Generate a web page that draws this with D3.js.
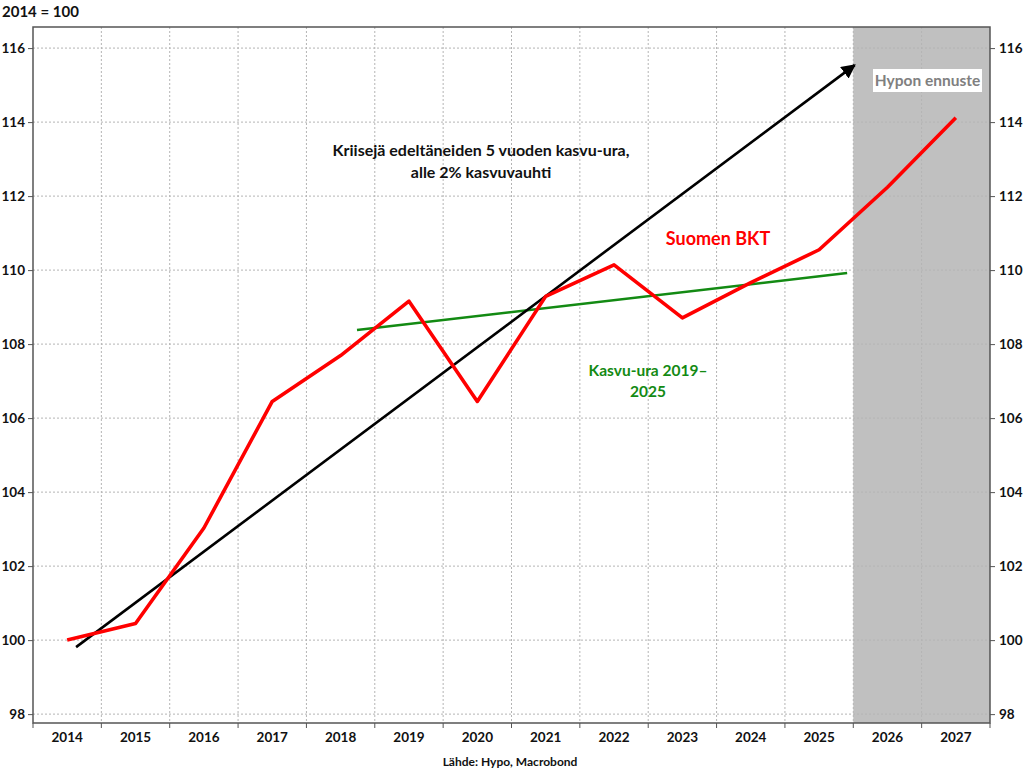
<!DOCTYPE html>
<html lang="fi">
  <head>
    <meta charset="utf-8" />
    <title>Suomen BKT, 2014 = 100</title>
    <style>
      body {
        margin: 0;
        background: #fff;
        font-family: Lato, "Open Sans", sans-serif;
        font-weight: bold;
      }
      .grid line {
        stroke: #b4b4b4;
        stroke-width: 1;
        stroke-dasharray: 2, 2;
      }
      .axis text {
        font-family: Lato, sans-serif;
        font-weight: bold;
        font-size: 13.5px;
        fill: #111;
      }
      .axis path,
      .axis line {
        stroke: #555;
      }
    </style>
    <script src="https://d3js.org/d3.v7.min.js"></script>
  </head>
  <body>
    <svg width="1024" height="772"></svg>
    <script>
      // data
      const years = [2014, 2015, 2016, 2017, 2018, 2019, 2020, 2021, 2022, 2023, 2024, 2025, 2026, 2027];
      const gdp = [100, 100.45, 103.03, 106.45, 107.69, 109.16, 106.45, 109.29, 110.14, 108.71, 109.66, 110.55, 112.24, 114.12];
      const yTicks = [98, 100, 102, 104, 106, 108, 110, 112, 114, 116];
      const forecastFrom = 2026;
      // trend lines: [fractional year, index value]
      const preCrisisTrend = [[2014.13, 99.81], [2025.52, 115.54]];
      const trend2019 = [[2018.24, 108.38], [2025.41, 109.92]];

      const svg = d3.select('svg');
      const pLeft = 33, pRight = 990, pTop = 27, pBottom = 723;

      const x = d3.scaleBand().domain(years).range([pLeft, pRight]).padding(0);
      // continuous version of the band scale for the trend lines
      const xc = d3
        .scaleLinear()
        .domain([years[0] - 0.5, years[years.length - 1] + 0.5])
        .range([pLeft, pRight]);
      const y = d3.scaleLinear().domain([97.76, 116.57]).range([pBottom, pTop]);

      // forecast shading
      svg
        .append('rect')
        .attr('x', x(forecastFrom))
        .attr('y', pTop)
        .attr('width', pRight - x(forecastFrom))
        .attr('height', pBottom - pTop)
        .attr('fill', '#c0c0c0');

      // grid
      const grid = svg.append('g').attr('class', 'grid');
      grid
        .selectAll('.gy')
        .data(yTicks)
        .enter()
        .append('line')
        .attr('x1', pLeft)
        .attr('x2', pRight)
        .attr('y1', (d) => y(d))
        .attr('y2', (d) => y(d));
      grid
        .selectAll('.gx')
        .data(years.slice(1))
        .enter()
        .append('line')
        .attr('x1', (d) => x(d))
        .attr('x2', (d) => x(d))
        .attr('y1', pTop)
        .attr('y2', pBottom);

      // frame
      svg
        .append('rect')
        .attr('x', pLeft)
        .attr('y', pTop)
        .attr('width', pRight - pLeft)
        .attr('height', pBottom - pTop)
        .attr('fill', 'none')
        .attr('stroke', '#555')
        .attr('stroke-width', 1.5);

      // axes
      svg
        .append('g')
        .attr('class', 'axis')
        .attr('transform', `translate(0,${pBottom})`)
        .call(d3.axisBottom(x).tickSize(0).tickPadding(9))
        .call((g) => g.select('.domain').remove());
      // x tick marks on band boundaries
      svg
        .append('g')
        .attr('class', 'axis')
        .selectAll('line')
        .data(years.concat([null]))
        .enter()
        .append('line')
        .attr('x1', (d) => (d === null ? pRight : x(d)))
        .attr('x2', (d) => (d === null ? pRight : x(d)))
        .attr('y1', pBottom)
        .attr('y2', pBottom + 5);

      svg
        .append('g')
        .attr('class', 'axis')
        .attr('transform', `translate(${pLeft},0)`)
        .call(d3.axisLeft(y).tickValues(yTicks).tickSize(5).tickPadding(3))
        .call((g) => g.select('.domain').remove());
      svg
        .append('g')
        .attr('class', 'axis')
        .attr('transform', `translate(${pRight},0)`)
        .call(d3.axisRight(y).tickValues(yTicks).tickSize(5).tickPadding(4))
        .call((g) => g.select('.domain').remove());

      // arrow marker
      svg
        .append('defs')
        .append('marker')
        .attr('id', 'arrow')
        .attr('viewBox', '0 0 10 10')
        .attr('refX', 9)
        .attr('refY', 5)
        .attr('markerWidth', 5.5)
        .attr('markerHeight', 5.5)
        .attr('markerUnits', 'strokeWidth')
        .attr('orient', 'auto')
        .append('path')
        .attr('d', 'M0,0 L10,5 L0,10 z')
        .attr('fill', '#000');

      const line = d3
        .line()
        .x((d) => xc(d[0]))
        .y((d) => y(d[1]));

      svg
        .append('path')
        .datum(trend2019)
        .attr('d', line)
        .attr('fill', 'none')
        .attr('stroke', '#138a13')
        .attr('stroke-width', 2.6);

      svg
        .append('path')
        .datum(preCrisisTrend)
        .attr('d', line)
        .attr('fill', 'none')
        .attr('stroke', '#000')
        .attr('stroke-width', 2.6)
        .attr('marker-end', 'url(#arrow)');

      svg
        .append('path')
        .datum(years.map((yr, i) => [yr, gdp[i]]))
        .attr('d', line)
        .attr('fill', 'none')
        .attr('stroke', '#ff0000')
        .attr('stroke-width', 3.6)
        .attr('stroke-linejoin', 'round');

      // texts
      svg
        .append('text')
        .attr('x', 2)
        .attr('y', 17)
        .attr('font-size', 15)
        .attr('fill', '#111')
        .text('2014 = 100');

      const note = svg
        .append('text')
        .attr('text-anchor', 'middle')
        .attr('font-size', 16)
        .attr('fill', '#111');
      note.append('tspan').attr('x', 481).attr('y', 156).text('Kriisejä edeltäneiden 5 vuoden kasvu-ura,');
      note.append('tspan').attr('x', 481).attr('y', 178).text('alle 2% kasvuvauhti');

      svg
        .append('text')
        .attr('x', 718)
        .attr('y', 245)
        .attr('text-anchor', 'middle')
        .attr('font-size', 18)
        .attr('fill', '#ff0000')
        .text('Suomen BKT');

      const green = svg
        .append('text')
        .attr('text-anchor', 'middle')
        .attr('font-size', 15.5)
        .attr('fill', '#138a13');
      green.append('tspan').attr('x', 648).attr('y', 376).text('Kasvu-ura 2019–');
      green.append('tspan').attr('x', 648).attr('y', 397).text('2025');

      svg
        .append('rect')
        .attr('x', 873)
        .attr('y', 69)
        .attr('width', 109)
        .attr('height', 23)
        .attr('fill', '#fff');
      svg
        .append('text')
        .attr('x', 927.5)
        .attr('y', 86)
        .attr('text-anchor', 'middle')
        .attr('font-size', 15.5)
        .attr('fill', '#808080')
        .text('Hypon ennuste');

      svg
        .append('text')
        .attr('x', 510)
        .attr('y', 766)
        .attr('text-anchor', 'middle')
        .attr('font-size', 12)
        .attr('fill', '#111')
        .text('Lähde: Hypo, Macrobond');
    </script>
  </body>
</html>
